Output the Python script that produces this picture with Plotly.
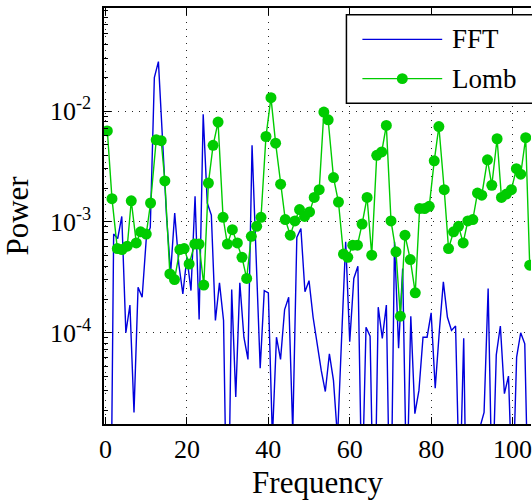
import plotly.graph_objects as go

# FFT power spectrum (integer frequency bins)
fft_freq = list(range(0, 106))
fft_power = [
    1e-7, 1e-7, 7.76e-4, 7.08e-4, 1.12e-3, 1.0e-4, 1.78e-4, 1.91e-5, 2.57e-4, 2.09e-4,
    6.92e-4, 8.91e-4, 2.00e-2, 2.79e-2, 5.62e-3, 1.12e-3, 3.47e-4, 1.20e-3, 4.17e-4, 2.24e-4,
    4.79e-4, 2.40e-4, 1.70e-3, 1.32e-4, 9.33e-3, 1.48e-3, 1.15e-3, 1.29e-4, 2.82e-4, 1.29e-4,
    6.3e-7, 2.45e-4, 2.63e-5, 2.82e-4, 9.12e-5, 5.75e-5, 4.90e-3, 5.01e-4, 4.79e-5, 2.40e-4,
    2.29e-4, 1.12e-5, 9.12e-5, 5.75e-5, 1.62e-4, 2.09e-4, 1.26e-5, 7.24e-4, 8.71e-4, 2.34e-4,
    2.95e-4, 1.38e-4, 7.59e-5, 4.57e-5, 2.95e-5, 6.46e-5, 3.72e-5, 1.12e-5, 8.91e-5, 6.61e-4,
    8.32e-5, 3.09e-4, 3.98e-4, 3.2e-6, 1.12e-4, 9.33e-5, 1e-6, 1.70e-4, 8.91e-5, 1.78e-4,
    1e-6, 6.61e-4, 7.24e-5, 3.80e-4, 3.2e-6, 1.41e-4, 1.86e-5, 3.02e-5, 9.12e-5, 9.12e-5,
    1.51e-4, 3.16e-5, 1.02e-4, 2.88e-4, 1.38e-4, 1.05e-4, 1.15e-4, 3.2e-6, 8.91e-5, 3.2e-7,
    1e-6, 5.0e-6, 1.41e-5, 1.91e-5, 2.51e-4, 3.2e-6, 6.31e-5, 1.15e-4, 2.82e-5, 4.07e-5,
    3.2e-6, 6.03e-5, 1.0e-4, 7.94e-5, 1.6e-6, 3.16e-5,
]

# Lomb-Scargle periodogram
lomb_freq = [
    0.45, 1.59, 2.90, 4.04, 5.35, 6.33, 7.56, 8.62, 10.01, 11.07, 12.46, 13.68, 14.58, 15.81, 16.95,
    18.26, 19.32, 20.54, 21.93, 22.99, 24.14, 25.28, 26.43, 27.65, 28.88, 29.94, 31.16, 32.39, 33.53,
    34.68, 35.82, 37.14, 38.20, 39.42, 40.65, 41.79, 43.02, 44.16, 45.39, 46.53, 47.67, 48.90, 50.13,
    51.27, 52.50, 53.64, 54.70, 56.01, 57.23, 58.46, 59.52, 60.74, 61.89, 63.03, 64.26, 65.40, 66.63,
    67.85, 68.99, 70.14, 71.36, 72.43, 73.57, 74.88, 76.10, 77.16, 78.39, 79.53, 80.76, 81.90, 83.21,
    84.27, 85.50, 86.72, 87.87, 89.01, 90.24, 91.38, 92.44, 93.83, 94.90, 96.20, 97.27, 98.49, 99.72,
    100.94, 102.0, 103.23, 104.21,
]
lomb_power = [
    6.61e-3, 1.62e-3, 5.75e-4, 5.62e-4, 6.03e-4, 1.55e-3, 6.46e-4, 8.13e-4, 7.76e-4, 1.48e-3,
    5.50e-3, 5.40e-3, 2.34e-3, 3.39e-4, 3.02e-4, 5.62e-4, 5.75e-4, 4.17e-4, 6.31e-4, 6.31e-4,
    2.69e-4, 2.24e-3, 4.90e-3, 7.94e-3, 1.10e-3, 6.31e-4, 8.51e-4, 6.46e-4, 4.79e-4, 3.09e-4,
    7.41e-4, 9.12e-4, 1.10e-3, 5.89e-3, 1.32e-2, 5.13e-3, 2.19e-3, 1.05e-3, 7.59e-4, 1.02e-3,
    1.29e-3, 1.12e-3, 1.23e-3, 1.66e-3, 1.95e-3, 9.77e-3, 8.32e-3, 2.51e-3, 1.51e-3, 5.13e-4,
    4.79e-4, 6.17e-4, 6.17e-4, 9.55e-4, 1.66e-3, 5.01e-4, 3.98e-3, 4.27e-3, 7.41e-3, 1.02e-3,
    5.37e-4, 1.41e-4, 7.59e-4, 4.57e-4, 2.29e-4, 1.32e-3, 1.32e-3, 1.38e-3, 3.55e-3, 7.24e-3,
    1.95e-3, 5.75e-4, 8.13e-4, 9.12e-4, 6.46e-4, 1.02e-3, 1.05e-3, 1.82e-3, 1.74e-3, 3.63e-3,
    2.14e-3, 5.62e-3, 1.66e-3, 1.78e-3, 1.95e-3, 3.02e-3, 2.69e-3, 5.75e-3, 4.07e-4,
]

x_ticks = [0, 20, 40, 60, 80, 100]
y_ticks = [1e-4, 1e-3, 1e-2]
y_tick_text = ["10<sup>-4</sup>", "10<sup>-3</sup>", "10<sup>-2</sup>"]
series_names = ["FFT", "Lomb"]

# minor tick positions at 2..9 within each decade on the log axis
y_minor = [m * d for d in (1e-5, 1e-4, 1e-3, 1e-2) for m in range(2, 10)]

BLUE = "#0000dd"
GREEN = "#00cc00"
FONT = "Liberation Serif"

fig = go.Figure()
fig.add_trace(go.Scatter(
    x=fft_freq, y=fft_power, mode="lines", name=series_names[0],
    line=dict(color=BLUE, width=1.4), showlegend=False,
))
fig.add_trace(go.Scatter(
    x=lomb_freq, y=lomb_power, mode="lines+markers", name=series_names[1],
    line=dict(color=GREEN, width=1.4),
    marker=dict(color=GREEN, size=11, line=dict(width=0)), showlegend=False,
))

W, H = 532, 500
ML, MR, MT, MB = 104, 0, 8, 68
pw, ph = W - ML - MR, H - MT - MB


def px_x(p):
    return (p - ML) / pw


def px_y(p):
    return (H - MB - p) / ph


grid = dict(showgrid=True, gridcolor="rgba(0,0,0,0.85)", gridwidth=1, griddash="1px,6px")

fig.update_layout(
    width=W, height=H,
    margin=dict(l=ML, r=MR, t=MT, b=MB),
    paper_bgcolor="white", plot_bgcolor="white",
    font=dict(family=FONT, size=26, color="black"),
    xaxis=dict(
        range=[-0.37, 104.53], tickvals=x_ticks, ticks="inside", ticklen=7,
        tickcolor="black", showline=True, linecolor="black", linewidth=1.5,
        mirror="ticks", zeroline=False, ticklabelstandoff=1,
        ticklabeloverflow="allow",
        title=dict(text="Frequency", standoff=14), **grid,
    ),
    yaxis=dict(
        type="log", range=[-4.823, -1.071], tickvals=y_ticks, ticktext=y_tick_text,
        ticks="inside", ticklen=7, tickcolor="black",
        showline=True, linecolor="black", linewidth=1.5, zeroline=False,
        minor=dict(tickvals=y_minor, ticks="inside", ticklen=4, tickcolor="black",
                   showgrid=False),
        ticklabelstandoff=6,
        title=dict(text="Power", standoff=12), **grid,
    ),
)

# Legend box with long line samples
lx0, lx1 = px_x(347), px_x(545)
ly_top, ly_bot = px_y(15), px_y(105)
fig.add_shape(type="rect", xref="paper", yref="paper", x0=lx0, x1=lx1, y0=ly_bot, y1=ly_top,
              line=dict(color="black", width=1.5), fillcolor="white", layer="above")
legend_rows = [(series_names[0], BLUE, 40, False), (series_names[1], GREEN, 80, True)]
for name, color, yc, has_marker in legend_rows:
    yy = px_y(yc)
    fig.add_shape(type="line", xref="paper", yref="paper", x0=px_x(363), x1=px_x(443),
                  y0=yy, y1=yy, line=dict(color=color, width=1.4), layer="above")
    if has_marker:
        r = 5.5
        fig.add_shape(type="circle", xref="paper", yref="paper",
                      x0=px_x(403 - r), x1=px_x(403 + r), y0=px_y(yc + r), y1=px_y(yc - r),
                      line=dict(width=0), fillcolor=color, layer="above")
    fig.add_annotation(xref="paper", yref="paper", x=px_x(451), y=yy, text=name,
                       showarrow=False, xanchor="left", yanchor="middle",
                       font=dict(family=FONT, size=27, color="black"))

fig.write_html("out.html")
